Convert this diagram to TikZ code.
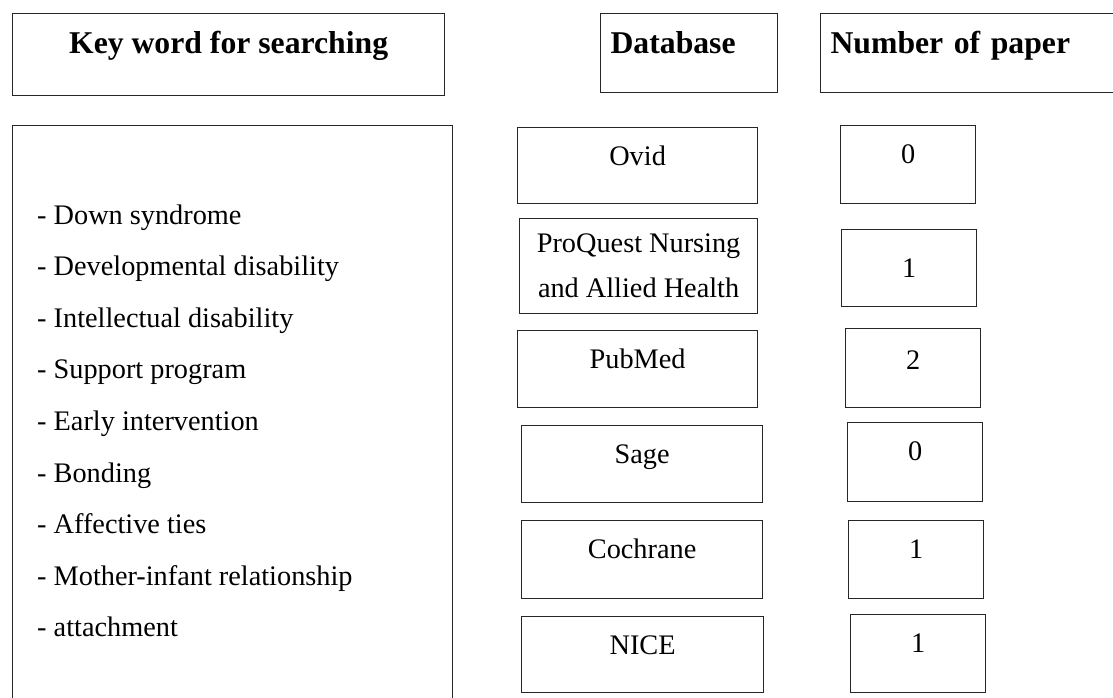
\documentclass[tikz,border=0pt]{standalone}
\usepackage{fontspec}
\setmainfont{Liberation Serif}
\begin{document}
\begin{tikzpicture}[x=1pt,y=-1pt,
  hdr/.style={draw=black!85,line width=1.2pt,anchor=north west,inner sep=0pt,font=\bfseries\fontsize{31.7}{38}\selectfont,text height=40pt,text depth=39pt},
  cell/.style={draw=black!85,line width=1.2pt,anchor=north west,inner sep=0pt,font=\fontsize{28.3}{40}\selectfont},
  dbase/.style={cell,minimum width=240pt,text height=38pt,text depth=39pt},
  num/.style={cell,minimum width=135pt,text height=38pt,text depth=40pt},
  kw/.style={anchor=base west,inner sep=0pt,font=\fontsize{28.3}{34}\selectfont}]
            \useasboundingbox (0,0) rectangle (1113,697);
            \node[hdr,minimum width=432pt,text depth=42pt] (kwhead) at (12,13) {Key word for searching};
            \node[hdr,text width=157pt,inner xsep=10pt,align=left] (dbhead) at (600,13) {Database};
            \node[hdr,text width=285pt,inner xsep=10pt,align=left] (numhead) at (820,13) {Number of paper};

            \node[cell,minimum width=440pt,minimum height=600pt] (kwbox) at (12,125) {};
            \node[kw] (k1) at (37,224) {- Down syndrome};
            \node[kw] (k2) at (37,275.6) {- Developmental disability};
            \node[kw] (k3) at (37,327.2) {- Intellectual disability};
            \node[kw] (k4) at (37,378.8) {- Support program};
            \node[kw] (k5) at (37,430.4) {- Early intervention};
            \node[kw] (k6) at (37,482) {- Bonding};
            \node[kw] (k7) at (37,533.6) {- Affective ties};
            \node[kw] (k8) at (37,585.2) {- Mother-infant relationship};
            \node[kw] (k9) at (37,636.8) {- attachment};

            \node[dbase,text depth=38pt] (ovid) at (517,127) {Ovid};
            \node[cell,minimum width=238pt,minimum height=95pt,align=center,font=\fontsize{28.3}{45}\selectfont] (proquest) at (519,218) {ProQuest Nursing\\and Allied Health};
            \node[dbase] (pubmed) at (517,330) {PubMed};
            \node[dbase,minimum width=241pt] (sage) at (521,425) {Sage};
            \node[dbase,minimum width=241pt,text depth=40pt] (cochrane) at (521,520) {Cochrane};
            \node[dbase,minimum width=242pt,text depth=38pt] (nice) at (521,616) {NICE};

            \node[num] (n1) at (840,125) {0};
            \node[num,text height=48pt,text depth=29pt] (n2) at (841,229) {1};
            \node[num,text height=41pt,text depth=38pt] (n3) at (845,328) {2};
            \node[num,text depth=41pt] (n4) at (847,422) {0};
            \node[num] (n5) at (848,520) {1};
            \node[num] (n6) at (850,614) {1};
        \end{tikzpicture}
\end{document}
